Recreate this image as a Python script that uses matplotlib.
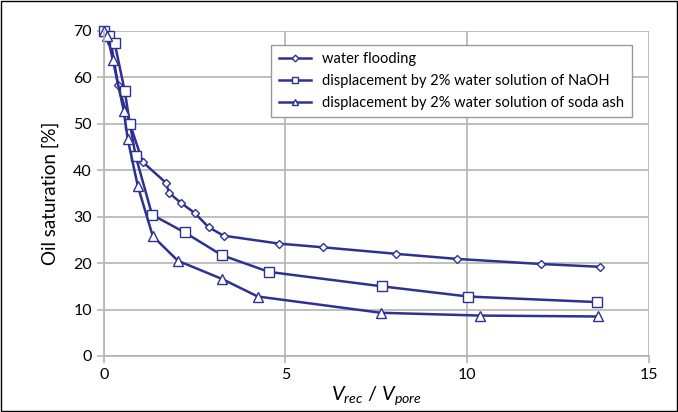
import numpy as np
import matplotlib
matplotlib.use("Agg")
import matplotlib.pyplot as plt
from matplotlib.patches import Rectangle

plt.rcParams["font.family"] = ["Lato", "DejaVu Sans"]
plt.rcParams["mathtext.fontset"] = "custom"
plt.rcParams["mathtext.it"] = "Lato:italic"
plt.rcParams["mathtext.rm"] = "Lato"

# ---- data ----
x_water = [0, 0.2, 0.39, 0.72, 1.07, 1.71, 1.8, 2.12, 2.5, 2.89, 3.3, 4.82, 6.03, 8.04, 9.72, 12.04, 13.66]
y_water = [70, 67.5, 58.4, 50, 41.8, 37.3, 35.1, 33, 30.8, 27.7, 25.9, 24.2, 23.4, 22, 20.9, 19.8, 19.2]

x_naoh = [0, 0.15, 0.3, 0.58, 0.72, 0.88, 1.33, 2.23, 3.25, 4.55, 7.65, 10.03, 13.58]
y_naoh = [70, 69, 67.4, 57, 50, 43, 30.4, 26.6, 21.7, 18.1, 15, 12.8, 11.6]

x_soda = [0, 0.1, 0.25, 0.55, 0.66, 0.94, 1.35, 2.04, 3.25, 4.24, 7.63, 10.36, 13.6]
y_soda = [70, 69, 63.8, 52.8, 46.7, 36.5, 25.8, 20.5, 16.6, 12.8, 9.3, 8.7, 8.5]

labels = ["water flooding",
          "displacement by 2% water solution of NaOH",
          "displacement by 2% water solution of soda ash"]

navy = "#2e3192"
grid_c = "#b4b4b4"

fig = plt.figure(figsize=(6.78, 4.12), dpi=100)
ax = fig.add_axes([0.153, 0.136, 0.804, 0.789])

ax.plot(x_water, y_water, color=navy, lw=1.8, marker="D", ms=4.5, mfc="white", mec=navy, mew=1.0,
        label=labels[0], clip_on=False)
ax.plot(x_naoh, y_naoh, color=navy, lw=1.8, marker="s", ms=6.5, mfc="white", mec=navy, mew=1.0,
        label=labels[1], clip_on=False)
ax.plot(x_soda, y_soda, color=navy, lw=1.8, marker="^", ms=6.5, mfc="white", mec=navy, mew=1.0,
        label=labels[2], clip_on=False)

ax.set_xlim(0, 15)
ax.set_ylim(0, 70)
ax.set_xticks([0, 5, 10, 15])
ax.set_yticks(range(0, 71, 10))
ax.grid(True, color=grid_c, lw=1.2)
ax.set_axisbelow(True)
for s in ["top", "right"]:
    ax.spines[s].set_visible(False)
for s in ["left", "bottom"]:
    ax.spines[s].set_color(grid_c)
    ax.spines[s].set_linewidth(1.2)
ax.tick_params(axis="y", colors=grid_c, length=5, width=1.2, labelcolor="black", labelsize=11.5)
ax.tick_params(axis="x", colors=grid_c, length=5, width=1.2, labelcolor="black", labelsize=11.5)

ax.set_ylabel("Oil saturation [%]", fontsize=13.5, labelpad=10)
ax.set_xlabel(r"$V_{rec}$ / $V_{pore}$", fontsize=14.5, labelpad=2)

leg = ax.legend(loc="upper right", bbox_to_anchor=(0.982, 0.98), fontsize=10.5, frameon=True,
                fancybox=False, edgecolor="#999999", framealpha=1, handlelength=2.2,
                borderpad=0.5, labelspacing=0.55, markerscale=0.75)
leg.get_frame().set_linewidth(1.0)

fig.patches.append(Rectangle((0.001, 0.002), 0.997, 0.996, transform=fig.transFigure,
                             fill=False, edgecolor="black", lw=1.0))

fig.savefig("out.png", dpi=100)
